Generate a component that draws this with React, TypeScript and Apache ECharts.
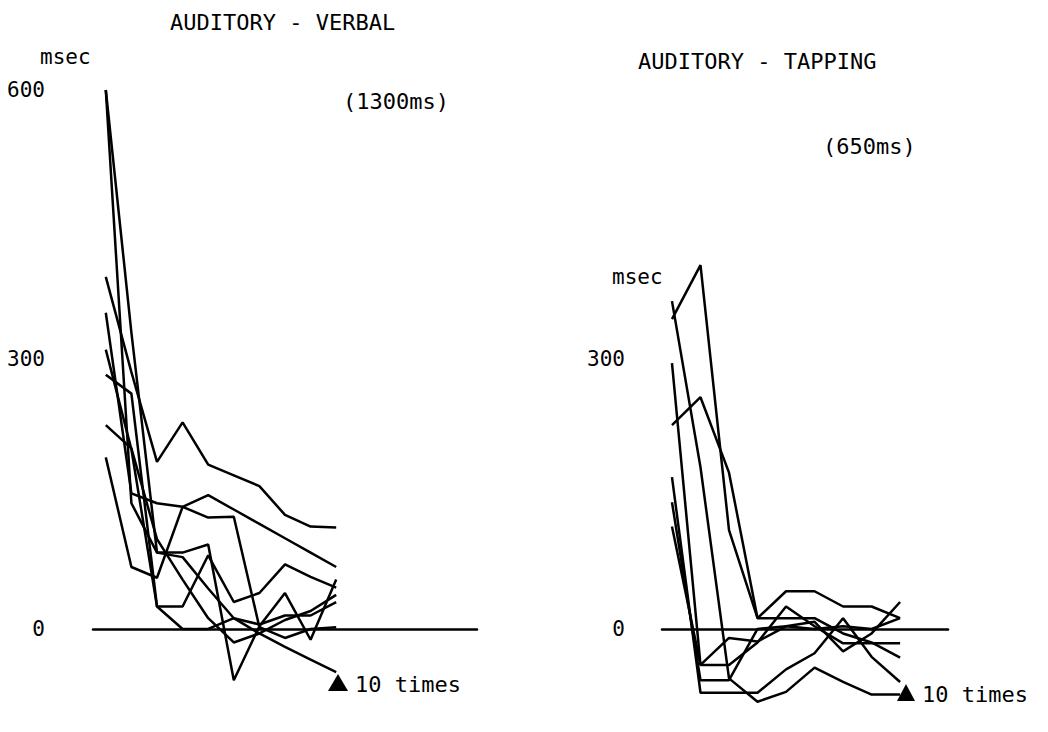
import React, { useEffect, useRef } from "react";
import * as echarts from "echarts";

// ---- Data: AUDITORY - VERBAL (10 points per subject) ----
const verbalTrials = [1, 2, 3, 4, 5, 6, 7, 8, 9, 10];
const verbalS1 = [392, 286, 186, 230, 183, 171, 159, 127, 114, 113];
const verbalS2 = [191, 69, 57, 136, 149, 133, 117, 101, 85, 69];
const verbalS3 = [352, 151, 140, 136, 124, 125, 2, -10, 0, 2];
const verbalS4 = [600, 140, 85, 80, 45, 12, -5, -20, -34, -48];
const verbalS5 = [600, 330, 85, 85, 94, -57, 3, 40, -12, 55];
const verbalS6 = [311, 200, 25, 0, 0, 12, 5, 15, 15, 30];
const verbalS7 = [283, 262, 25, 25, 82, 30, 40, 72, 58, 46];
const verbalS8 = [227, 201, 100, 55, 12, -15, -5, 10, 20, 38];
const verbalTicks = [0, 300, 600];

// ---- Data: AUDITORY - TAPPING (9 points per subject) ----
const tappingTrials = [1, 2, 3, 4, 5, 6, 7, 8, 9];
const tappingS1 = [345, 405, 110, 12, 42, 42, 25, 25, 12];
const tappingS2 = [227, 258, 174, 12, 12, 12, -5, -15, -32];
const tappingS3 = [296, -40, -40, -15, 25, 3, -16, -16, -16];
const tappingS4 = [365, 180, -55, -81, -70, -43, -59, -73, -73];
const tappingS5 = [169, -71, -71, -71, -45, -27, 12, -31, -59];
const tappingS6 = [141, -57, -57, 0, 3, 0, 3, 0, 12];
const tappingS7 = [114, -40, -10, -14, 3, 8, -25, -5, 30];
const tappingTicks = [0, 300];

const verbalSeries = [verbalS1, verbalS2, verbalS3, verbalS4, verbalS5, verbalS6, verbalS7, verbalS8];
const tappingSeries = [tappingS1, tappingS2, tappingS3, tappingS4, tappingS5, tappingS6, tappingS7];

const FONT_FAMILY = '"DejaVu Sans Mono", monospace';
const FONT = '22px "DejaVu Sans Mono", monospace';

export default function App() {
  const ref = useRef<HTMLDivElement>(null);

  useEffect(() => {
    if (!ref.current) return;
    const chart = echarts.init(ref.current, null, { renderer: "svg" });

    const makeLine = (vals: number[], trials: number[], idx: number) => ({
      type: "line",
      xAxisIndex: idx,
      yAxisIndex: idx,
      data: trials.map((t, i) => [t, vals[i]]),
      symbol: "none",
      clip: false,
      lineStyle: { color: "#000", width: 2.5 },
      silent: true,
    });

    const yAxisBase = (ticks: number[], margin: number, gridIndex: number) => ({
      type: "value",
      gridIndex,
      min: -100,
      max: 600,
      interval: 100,
      axisLine: { show: false },
      axisTick: { show: false },
      splitLine: { show: false },
      axisLabel: {
        formatter: (v: number) => (ticks.includes(v) ? String(v) : ""),
        fontFamily: FONT_FAMILY,
        fontSize: 21,
        color: "#000",
        margin,
      },
    });

    const xAxisBase = (min: number, max: number, gridIndex: number) => ({
      type: "value",
      gridIndex,
      min,
      max,
      axisLine: { show: true, onZero: true, lineStyle: { color: "#000", width: 2.5 } },
      axisTick: { show: false },
      axisLabel: { show: false },
      splitLine: { show: false },
    });

    chart.setOption({
      animation: false,
      backgroundColor: "#fff",
      grid: [
        { left: 93, right: 571, top: 90, bottom: 13.2, containLabel: false },
        { left: 662, right: 100, top: 90, bottom: 13.2, containLabel: false },
      ],
      xAxis: [xAxisBase(0.5, 15.5, 0), xAxisBase(0.65, 10.68, 1)],
      yAxis: [yAxisBase(verbalTicks, 48, 0), yAxisBase(tappingTicks, 37, 1)],
      series: [
        ...verbalSeries.map((s) => makeLine(s, verbalTrials, 0)),
        ...tappingSeries.map((s) => makeLine(s, tappingTrials, 1)),
      ],
      graphic: [
        { type: "text", x: 170, y: 22, style: { text: "AUDITORY - VERBAL", font: FONT, fill: "#000", textVerticalAlign: "middle" } },
        { type: "text", x: 40, y: 57, style: { text: "msec", font: '21px "DejaVu Sans Mono", monospace', fill: "#000", textVerticalAlign: "middle" } },
        { type: "text", x: 343, y: 101, style: { text: "(1300ms)", font: FONT, fill: "#000", textVerticalAlign: "middle" } },
        { type: "polygon", shape: { points: [[328, 691], [338, 674], [348, 691]] }, style: { fill: "#000" } },
        { type: "text", x: 355, y: 684, style: { text: "10 times", font: FONT, fill: "#000", textVerticalAlign: "middle" } },
        { type: "text", x: 638, y: 61, style: { text: "AUDITORY - TAPPING", font: FONT, fill: "#000", textVerticalAlign: "middle" } },
        { type: "text", x: 823, y: 146, style: { text: "(650ms)", font: FONT, fill: "#000", textVerticalAlign: "middle" } },
        { type: "text", x: 612, y: 277, style: { text: "msec", font: '21px "DejaVu Sans Mono", monospace', fill: "#000", textVerticalAlign: "middle" } },
        { type: "polygon", shape: { points: [[897, 701], [906, 684], [915, 701]] }, style: { fill: "#000" } },
        { type: "text", x: 922, y: 694, style: { text: "10 times", font: FONT, fill: "#000", textVerticalAlign: "middle" } },
      ],
    });

    return () => chart.dispose();
  }, []);

  return (
    <div
      ref={ref}
      style={{ position: "fixed", left: 0, top: 0, width: 1048, height: 732, background: "#fff" }}
    />
  );
}
